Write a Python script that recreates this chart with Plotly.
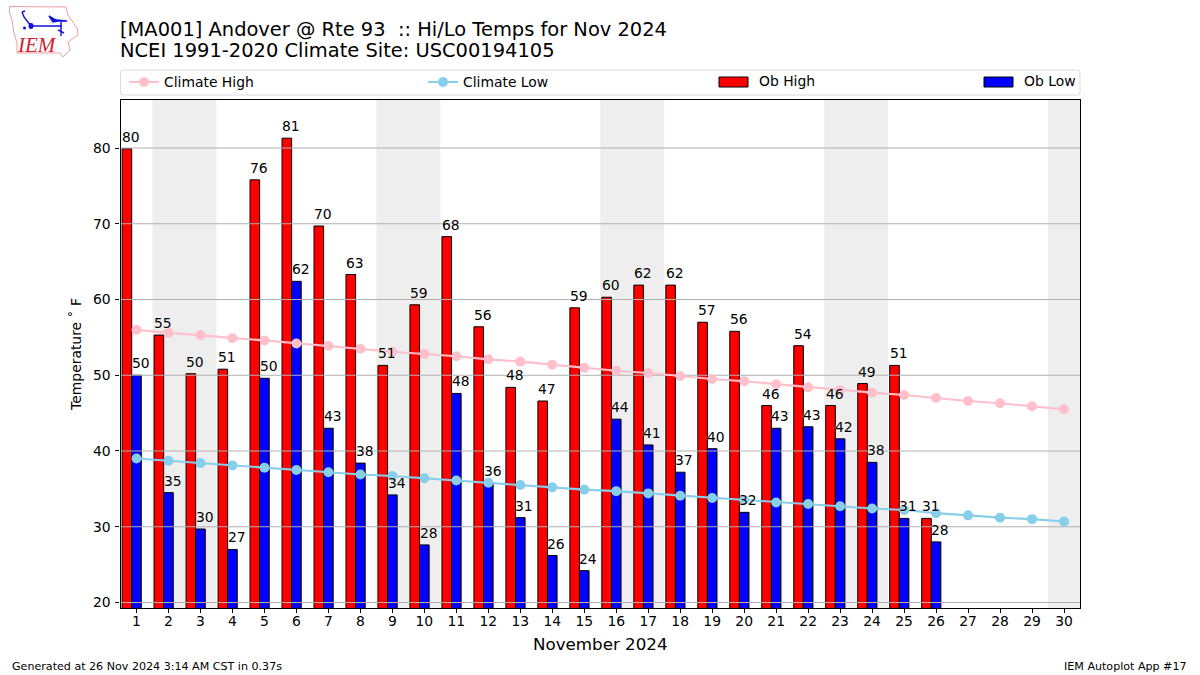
import plotly.graph_objects as go

W, H = 1200, 675
days = list(range(1, 31))
tick_vals_y = [20, 30, 40, 50, 60, 70, 80]
weekend_spans = [(1.5, 3.5), (8.5, 10.5), (15.5, 17.5), (22.5, 24.5), (29.5, 30.5)]

ob_high = [79.9, 55.3, 50.2, 50.8, 75.8, 81.3, 69.7, 63.3, 51.3, 59.3, 68.3, 56.4, 48.4,
           46.6, 58.9, 60.3, 61.9, 61.9, 57.0, 55.8, 46.0, 53.9, 46.0, 48.9, 51.3, 31.1]
ob_low = [50.0, 34.5, 29.7, 27.0, 49.6, 62.4, 43.0, 38.4, 34.2, 27.6, 47.6, 35.8, 31.2,
          26.2, 24.2, 44.2, 40.8, 37.2, 40.3, 31.9, 43.0, 43.2, 41.6, 38.5, 31.1, 28.0]
high_labels = [80, 55, 50, 51, 76, 81, 70, 63, 51, 59, 68, 56, 48, 47, 59, 60, 62, 62, 57, 56, 46, 54, 46, 49, 51, 31]
low_labels = [50, 35, 30, 27, 50, 62, 43, 38, 34, 28, 48, 36, 31, 26, 24, 44, 41, 37, 40, 32, 43, 43, 42, 38, 31, 28]
climate_high = [56.0, 55.6, 55.3, 54.9, 54.6, 54.2, 53.9, 53.5, 53.1, 52.8, 52.5, 52.1, 51.8, 51.4, 51.0,
                50.6, 50.3, 49.9, 49.5, 49.2, 48.8, 48.4, 48.0, 47.7, 47.4, 47.0, 46.6, 46.3, 45.9, 45.5]
climate_low = [39.0, 38.7, 38.4, 38.1, 37.8, 37.5, 37.2, 36.9, 36.7, 36.4, 36.1, 35.8, 35.5, 35.2, 34.9,
               34.7, 34.4, 34.1, 33.8, 33.5, 33.2, 33.0, 32.7, 32.4, 32.2, 31.8, 31.5, 31.2, 31.0, 30.7]

FONT = "DejaVu Sans"
BAR_W = 0.3
RED, BLUE = "#ff0000", "#0000ff"


def px(x):
    return x / W


def py(y):
    return 1 - y / H


def path(points, close=True):
    d = "M" + " L".join(f"{px(a):.5f},{py(b):.5f}" for a, b in points)
    return d + (" Z" if close else "")


def rounded_rect(x0, y0, x1, y1, r):
    c = lambda a, b: f"{px(a):.5f},{py(b):.5f}"
    return (f"M{c(x0 + r, y0)} L{c(x1 - r, y0)} Q{c(x1, y0)} {c(x1, y0 + r)} L{c(x1, y1 - r)} "
            f"Q{c(x1, y1)} {c(x1 - r, y1)} L{c(x0 + r, y1)} Q{c(x0, y1)} {c(x0, y1 - r)} "
            f"L{c(x0, y0 + r)} Q{c(x0, y0)} {c(x0 + r, y0)} Z")


fig = go.Figure()
fig.add_bar(x=days[:len(ob_high)], y=ob_high, width=BAR_W, offset=-0.45, name="Ob High", showlegend=False,
            marker=dict(color=RED, line=dict(color="black", width=1)))
fig.add_bar(x=days[:len(ob_low)], y=ob_low, width=BAR_W, offset=-0.15, name="Ob Low", showlegend=False,
            marker=dict(color=BLUE, line=dict(color="black", width=1)))

# Grid lines sit above the bars but below the climate lines, as in the reference.
for t in tick_vals_y:
    fig.add_scatter(x=[0.5, 30.5], y=[t, t], mode="lines", showlegend=False, hoverinfo="skip",
                    line=dict(color="#b0b0b0", width=1.1))

fig.add_scatter(x=days, y=climate_high, mode="lines+markers", name="Climate High", legend="legend",
                line=dict(color="#ffc0cb", width=2.1), marker=dict(color="#ffc0cb", size=10))
fig.add_scatter(x=days, y=climate_low, mode="lines+markers", name="Climate Low", legend="legend2",
                line=dict(color="#87ceeb", width=2.1), marker=dict(color="#87ceeb", size=10))

annotations = []
label_font = dict(family=FONT, size=13.9, color="black", shadow="0px 0px 2px white")
for d, v, t in zip(days, ob_high, high_labels):
    annotations.append(dict(x=d - 0.45, y=v, text=str(t), showarrow=False, xanchor="left", yanchor="bottom",
                            font=label_font, xref="x", yref="y", borderpad=0, yshift=3, xshift=-1))
for d, v, t in zip(days, ob_low, low_labels):
    annotations.append(dict(x=d - 0.15, y=v, text=str(t), showarrow=False, xanchor="left", yanchor="bottom",
                            font=label_font, xref="x", yref="y", borderpad=0, yshift=3, xshift=-1))


def fig_text(x, y, text, size, anchor="left", family=FONT, color="black"):
    annotations.append(dict(x=px(x), y=py(y), xref="paper", yref="paper", text=text, showarrow=False,
                            xanchor=anchor, yanchor="middle", borderpad=0,
                            font=dict(family=family, size=size, color=color)))


fig_text(119, 50.5, "NCEI 1991-2020 Climate Site: USC00194105", 19.45)
fig_text(10.5, 666, "Generated at 26 Nov 2024 3:14 AM CST in 0.37s", 11.1)
fig_text(1188, 666, "IEM Autoplot App #17", 11.1, anchor="right")
fig_text(37, 44.5, "<i>IEM</i>", 21, anchor="center", family="Liberation Serif", color="#d62030")
fig_text(757.5, 81.5, "Ob High", 13.9)
fig_text(1022.5, 81.5, "Ob Low", 13.9)

shapes = []
for a, b in weekend_spans:
    shapes.append(dict(type="rect", x0=a, x1=b, y0=0, y1=1, xref="x", yref="y domain", layer="below",
                       fillcolor="#eeeeee", line=dict(width=0)))
# legend frame and the two bar swatches
shapes.append(dict(type="path", xref="paper", yref="paper", path=rounded_rect(120.5, 70, 1080, 95, 3),
                   line=dict(color="#dcdcdc", width=1.1), fillcolor="white", layer="below"))
for x0, color in [(719, RED), (984, BLUE)]:
    shapes.append(dict(type="rect", xref="paper", yref="paper", x0=px(x0), x1=px(x0 + 29), y0=py(87), y1=py(77),
                       fillcolor=color, line=dict(color="black", width=1), layer="above"))
# logo: state outline and station-model glyph
iowa = [(9.5, 6.5), (66, 7), (68, 15), (77, 28), (78, 35), (68, 42), (70, 50), (63, 57),
        (60, 53), (17, 53), (17, 43), (14, 33), (12, 20), (9.5, 13)]
shapes.append(dict(type="path", path=path(iowa), xref="paper", yref="paper", layer="above",
                   line=dict(color="#e9a0a6", width=1)))
blue = dict(type="path", xref="paper", yref="paper", layer="above", line=dict(color="#1010d8", width=1.4))
shapes.append({**blue, "path": path([(31, 26), (62, 26)], False)})
shapes.append({**blue, "path": path([(31, 26), (24, 17), (22, 12)], False)})
shapes.append({**blue, "path": path([(22, 12), (25, 11)], False)})
shapes.append({**blue, "path": path([(49, 16), (56, 20), (67, 21), (58, 21), (53, 22)]), "fillcolor": "#1010d8"})
shapes.append({**blue, "path": path([(61, 22), (61, 36)], False)})
shapes.append({**blue, "path": path([(58, 30), (64, 33)], False)})
shapes.append(dict(type="circle", xref="paper", yref="paper", layer="above", x0=px(28.5), x1=px(33.5),
                   y0=py(29), y1=py(23), fillcolor="#1010d8", line=dict(width=0)))
shapes.append(dict(type="circle", xref="paper", yref="paper", layer="above", x0=px(23), x1=px(26),
                   y0=py(29.5), y1=py(26.5), fillcolor="#1010d8", line=dict(width=0)))

leg = dict(bgcolor="rgba(0,0,0,0)", borderwidth=0, font=dict(family=FONT, size=13.9, color="black"),
           xanchor="left", yanchor="middle", y=py(82.5), itemwidth=30, tracegroupgap=0)

fig.update_layout(
    width=W, height=H, autosize=False,
    margin=dict(l=0, r=0, t=0, b=0),
    paper_bgcolor="white", plot_bgcolor="white",
    barmode="overlay", showlegend=True,
    font=dict(family=FONT, size=13.9, color="black"),
    title=dict(text="[MA001] Andover @ Rte 93  :: Hi/Lo Temps for Nov 2024",
               x=px(120), xanchor="left", y=py(29), yanchor="middle", xref="container", yref="container",
               pad=dict(l=0, r=0, t=0, b=0), font=dict(family=FONT, size=19.45, color="black")),
    legend={**leg, "x": px(124)},
    legend2={**leg, "x": px(423)},
    xaxis=dict(domain=[px(120.5), px(1080)], range=[0.5, 30.5], tickmode="array", tickvals=days,
               ticktext=[str(d) for d in days], ticks="outside", ticklen=4, tickwidth=1.1, tickcolor="black",
               showline=True, linecolor="black", linewidth=1.1, mirror=True, showgrid=False, zeroline=False,
               automargin=False, tickfont=dict(family=FONT, size=13.9), ticklabelstandoff=-4,
               title=dict(text="November 2024", standoff=10, font=dict(family=FONT, size=16.7))),
    yaxis=dict(domain=[py(608), py(100)], range=[19.27, 86.34], tickmode="array", tickvals=tick_vals_y,
               ticks="outside", ticklen=4, tickwidth=1.1, tickcolor="black",
               showline=True, linecolor="black", linewidth=1.1, mirror=True, showgrid=False, zeroline=False,
               automargin=False, tickfont=dict(family=FONT, size=13.9), ticklabelstandoff=2,
               title=dict(text="Temperature ˚ F", standoff=8, font=dict(family=FONT, size=13.9))),
    annotations=annotations,
    shapes=shapes,
)
fig.write_html("out.html", post_script="document.body.style.margin='0';", config=dict(displayModeBar=False))
